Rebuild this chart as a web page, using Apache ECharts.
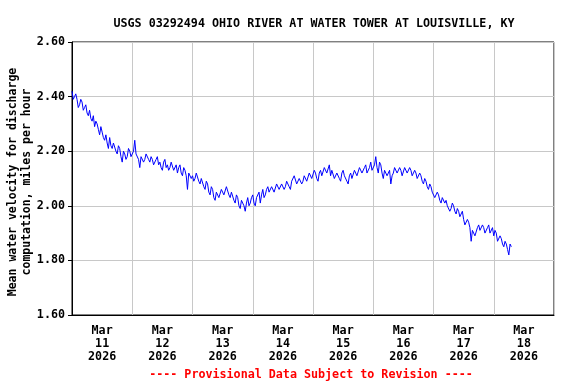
<!DOCTYPE html>
<html><head><meta charset="utf-8">
<script src="https://cdn.jsdelivr.net/npm/echarts@6/dist/echarts.min.js"></script>
<style>html,body{margin:0;padding:0;background:#fff}#c{width:576px;height:384px}</style>
</head><body><div id="c"></div>
<script>
var title = "USGS 03292494 OHIO RIVER AT WATER TOWER AT LOUISVILLE, KY";
var yName = "Mean water velocity for discharge\ncomputation, miles per hour";
var footer = "---- Provisional Data Subject to Revision ----";
var dayLabels = ["Mar\n11\n2026","Mar\n12\n2026","Mar\n13\n2026","Mar\n14\n2026","Mar\n15\n2026","Mar\n16\n2026","Mar\n17\n2026","Mar\n18\n2026"];
// half-hourly values starting Mar 11 2026 00:00
var velocityMar11 = [2.42,2.39,2.40,2.41,2.39,2.36,2.37,2.39,2.38,2.35,2.36,2.37,2.34,2.33,2.35,2.32,2.31,2.33,2.29,2.31,2.30,2.28,2.26,2.29,2.27,2.25,2.24,2.26,2.23,2.21,2.25,2.22,2.21,2.23,2.23,2.20,2.19,2.22,2.21,2.18,2.16,2.20,2.19,2.17,2.18,2.21,2.20,2.18];
var velocityMar12 = [2.18,2.20,2.24,2.19,2.19,2.17,2.14,2.18,2.18,2.16,2.17,2.19,2.19,2.17,2.16,2.18,2.17,2.15,2.15,2.17,2.18,2.15,2.16,2.14,2.13,2.16,2.17,2.14,2.15,2.13,2.14,2.16,2.16,2.13,2.13,2.15,2.12,2.14,2.15,2.12,2.11,2.14,2.13,2.11,2.06,2.12,2.12,2.10];
var velocityMar13 = [2.11,2.09,2.10,2.12,2.12,2.09,2.08,2.10,2.10,2.07,2.06,2.09,2.08,2.05,2.04,2.07,2.06,2.03,2.02,2.05,2.05,2.03,2.03,2.06,2.06,2.04,2.04,2.07,2.07,2.04,2.03,2.05,2.05,2.02,2.01,2.04,2.03,2.00,1.99,2.02,2.02,2.00,1.98,2.01,2.03,2.00,2.01,2.03];
var velocityMar14 = [2.04,2.01,2.00,2.03,2.03,2.05,2.01,2.04,2.06,2.03,2.04,2.06,2.07,2.05,2.05,2.07,2.07,2.05,2.05,2.08,2.08,2.06,2.06,2.08,2.08,2.06,2.07,2.09,2.09,2.07,2.06,2.09,2.09,2.11,2.11,2.08,2.08,2.10,2.10,2.08,2.09,2.11,2.11,2.09,2.09,2.12,2.12,2.10];
var velocityMar15 = [2.10,2.13,2.12,2.10,2.09,2.12,2.13,2.11,2.11,2.14,2.14,2.12,2.12,2.15,2.11,2.13,2.13,2.10,2.10,2.12,2.12,2.10,2.09,2.12,2.13,2.11,2.11,2.09,2.08,2.11,2.12,2.10,2.10,2.13,2.13,2.11,2.11,2.14,2.14,2.12,2.12,2.14,2.15,2.12,2.12,2.14,2.16,2.13];
var velocityMar16 = [2.13,2.15,2.18,2.14,2.12,2.16,2.15,2.12,2.10,2.13,2.13,2.11,2.11,2.13,2.08,2.11,2.12,2.14,2.14,2.12,2.12,2.14,2.13,2.11,2.11,2.14,2.14,2.12,2.12,2.14,2.13,2.11,2.11,2.13,2.12,2.10,2.10,2.12,2.11,2.09,2.08,2.10,2.09,2.07,2.06,2.08,2.07,2.05];
var velocityMar17 = [2.05,2.03,2.03,2.05,2.04,2.02,2.01,2.03,2.03,2.01,2.02,2.00,2.00,1.98,1.99,2.01,2.00,1.98,1.97,1.99,1.98,1.96,1.96,1.98,1.95,1.93,1.93,1.95,1.94,1.92,1.87,1.91,1.91,1.89,1.89,1.92,1.93,1.91,1.91,1.93,1.92,1.90,1.90,1.92,1.93,1.90,1.90,1.92];
var velocityMar18 = [1.89,1.91,1.90,1.87,1.87,1.89,1.88,1.86,1.85,1.87,1.86,1.84,1.82,1.86,1.85];
var yMin = 1.6, yMax = 2.6, yStep = 0.2;

var velocity = [].concat(velocityMar11, velocityMar12, velocityMar13, velocityMar14, velocityMar15, velocityMar16, velocityMar17, velocityMar18);
var data = velocity.map(function(v,i){return [i*0.5, v];});
var font = '"DejaVu Sans Mono", monospace';
var chart = echarts.init(document.getElementById('c'), null, {renderer:'canvas'});
chart.setOption({
  animation:false,
  backgroundColor:'#fff',
  title:{text:title, left:309, top:13, textAlign:'center',
    textStyle:{fontFamily:font, fontWeight:'bold', fontSize:11.7, color:'#000'}},
  grid:{left:72, right:22, top:42, bottom:69, show:true, borderColor:'#000', borderWidth:1, backgroundColor:'#fff'},
  xAxis:[
    {type:'category', data:dayLabels, boundaryGap:true, position:'bottom',
     axisLine:{show:true, lineStyle:{color:'#000'}}, axisTick:{show:false},
     splitLine:{show:true, lineStyle:{color:'#c8c8c8', width:1}},
     axisLabel:{fontFamily:font, fontWeight:'bold', fontSize:11.7, color:'#000', lineHeight:13, margin:9, interval:0}},
    {type:'value', min:0, max:192, show:false}
  ],
  yAxis:{type:'value', min:yMin, max:yMax, interval:yStep,
    axisLine:{show:true, lineStyle:{color:'#000'}},
    axisTick:{show:true, length:4, lineStyle:{color:'#000'}},
    splitLine:{show:true, lineStyle:{color:'#c8c8c8', width:1}},
    axisLabel:{fontFamily:font, fontWeight:'bold', fontSize:11.7, color:'#000', margin:7,
      formatter:function(v){return v.toFixed(2);}}},
  graphic:[
    {type:'text', x:20, y:182, rotation:Math.PI/2,
     style:{text:yName, fontFamily:font, fontWeight:'bold', fontSize:11.5, fill:'#000', align:'center', verticalAlign:'middle', lineHeight:14}},
    {type:'text', x:311, y:375,
     style:{text:footer, fontFamily:font, fontWeight:'bold', fontSize:11.7, fill:'#ff0000', align:'center', verticalAlign:'middle'}}
  ],
  series:[{type:'line', xAxisIndex:1, data:data, showSymbol:false, symbol:'none',
    lineStyle:{color:'#0000ff', width:1}, itemStyle:{color:'#0000ff'}}]
});
</script></body></html>
